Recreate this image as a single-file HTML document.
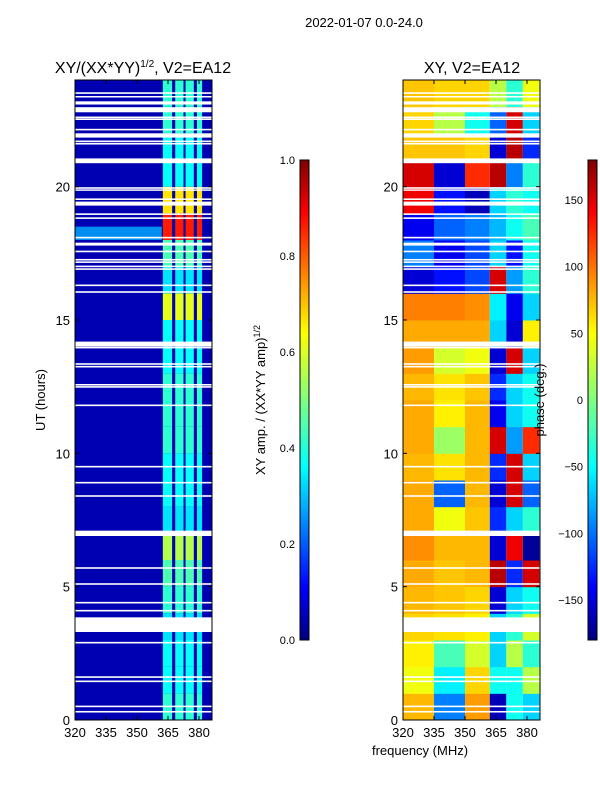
<!DOCTYPE html>
<html><head><meta charset="utf-8"><style>
body{margin:0;background:#fff;}
svg text{font-family:"Liberation Sans",sans-serif;fill:#000;}
</style></head><body>
<svg id="fig" width="600" height="800" xmlns="http://www.w3.org/2000/svg">
<defs>
<linearGradient id="jetg" x1="0" y1="1" x2="0" y2="0">
<stop offset="0" stop-color="#00007f"/><stop offset="0.11" stop-color="#0000ff"/><stop offset="0.36" stop-color="#00ffff"/><stop offset="0.5" stop-color="#7fff7f"/><stop offset="0.64" stop-color="#ffff00"/><stop offset="0.89" stop-color="#ff0000"/><stop offset="1" stop-color="#7f0000"/>
</linearGradient>
</defs>
<text x="364" y="27" font-size="13" text-anchor="middle">2022-01-07 0.0-24.0</text>
<text x="143" y="73" font-size="16" text-anchor="middle">XY/(XX*YY)<tspan font-size="10" dy="-6">1/2</tspan><tspan dy="6">, V2=EA12</tspan></text>
<text x="472" y="73" font-size="16" text-anchor="middle">XY, V2=EA12</text>
<g id="left"></g>
<g id="right"></g>
<g id="axes"></g>
<rect x="300" y="160" width="9" height="480" fill="url(#jetg)" stroke="#000"/>
<rect x="588" y="160" width="9" height="480" fill="url(#jetg)" stroke="#000"/>
<text transform="translate(265,400) rotate(-90)" font-size="13" text-anchor="middle">XY amp. / (XX*YY amp)<tspan font-size="9" dy="-5">1/2</tspan></text>
<text transform="translate(544,400) rotate(-90)" font-size="13" text-anchor="middle">phase (deg.)</text>
<text transform="translate(45,400) rotate(-90)" font-size="13" text-anchor="middle">UT (hours)</text>
<text x="420" y="755" font-size="13" text-anchor="middle">frequency (MHz)</text>
</svg>
<script>
const hours=[0,1,2,3,4,5,6,7,8,9,10,11,12,13,14,15,16,17,18,19,20,21,22,23];
const ampStripe=[0.42,0.38,0.38,0.35,0.42,0.45,0.55,0.35,0.38,0.38,0.42,0.42,0.42,0.38,0.38,0.6,0.35,0.45,0.85,0.65,0.38,0.38,0.42,0.42];
const ampBackground=0.05;
const stripeEdges=[[362.5,367],[368.5,372.5],[373.5,377.5],[379,381.5]];
const phaseColEdges=[320,335,350,362,370,378,386];
const phaseRows=[
[70,-90,80,-160,-40,-60],[40,-50,60,-40,-40,20],[50,-20,30,-60,20,-30],[60,55,50,-60,-30,30],
[70,65,60,-150,-60,-40],[75,65,70,160,-120,150],[85,70,70,-150,140,-170],[75,40,65,-120,-60,-30],
[75,-100,70,-150,150,-100],[70,55,70,-120,150,-60],[75,10,70,150,-80,120],[75,50,70,-140,-60,-40],
[70,55,65,-120,-60,-40],[80,30,40,-150,150,-60],[75,75,75,-60,-150,50],[90,90,85,-50,-140,-60],
[-150,-130,-110,150,-80,-30],[-90,-140,-110,-60,-130,-40],[-140,-100,-90,-70,-40,-20],[140,-130,-160,-60,-30,-40],
[150,-150,120,160,-90,-30],[65,65,60,-150,160,-120],[60,20,-40,-100,150,-60],[65,60,60,20,-30,40]];
const gaps=[[0.28,0.34],[0.48,0.54],[1.42,1.48],[1.58,1.64],[2.87,2.93],[3.3,3.85],[4.07,4.13],[4.37,4.43],[5.07,5.13],[5.67,5.73],[6.9,7.1],[8.37,8.43],[8.87,8.93],[9.47,9.53],[11.77,11.83],[12.46,12.52],[12.54,12.6],[13.22,13.28],[13.32,13.38],[13.94,13.99],[14.0,14.19],[16.02,16.08],[16.27,16.33],[16.88,16.94],[16.98,17.04],[17.14,17.2],[17.23,17.29],[17.54,17.6],[17.79,17.85],[17.85,17.9],[18.06,18.12],[18.79,18.85],[18.94,19.0],[19.29,19.44],[19.5,19.56],[19.85,19.9],[19.92,19.98],[20.88,21.06],[21.58,21.64],[21.67,21.73],[21.84,22.0],[22.11,22.17],[22.5,22.56],[22.57,22.63],[22.79,22.98],[23.08,23.2],[23.35,23.4],[23.48,23.54]];
const yTicks=[0,5,10,15,20];
const xTicks=[320,335,350,365,380];
const ampTicks=[0.0,0.2,0.4,0.6,0.8,1.0];
const phaseTicks=[-150,-100,-50,0,50,100,150];

const NS='http://www.w3.org/2000/svg';
function jet(v){v=Math.max(0,Math.min(1,v));
 const r=Math.max(0,Math.min(1,1.5-Math.abs(4*v-3))),g=Math.max(0,Math.min(1,1.5-Math.abs(4*v-2))),b=Math.max(0,Math.min(1,1.5-Math.abs(4*v-1)));
 return `rgb(${Math.round(r*255)},${Math.round(g*255)},${Math.round(b*255)})`;}
const yS=h=>720-h*(640/24);
function xL(f){return 75+(f-320)*(124/60);}
function xR(f){return 403+(f-320)*(124/60);}
function mk(parent,tag,attrs){const e=document.createElementNS(NS,tag);for(const k in attrs)e.setAttribute(k,attrs[k]);parent.appendChild(e);return e;}
const L=document.getElementById('left'),R=document.getElementById('right'),A=document.getElementById('axes');
let bg=mk(L,'rect',{x:75,y:80,width:137,height:640,fill:jet(ampBackground)});


let band=mk(L,'rect',{x:75,y:yS(18.5),width:xL(362)-75,height:yS(18.0)-yS(18.5),fill:jet(0.3),opacity:0.8});


hours.forEach((h,i)=>{stripeEdges.forEach((s,j)=>{
 const c=mk(L,'rect',{x:xL(s[0]),y:yS(h+1),width:xL(s[1])-xL(s[0]),height:yS(h)-yS(h+1),fill:jet(ampStripe[i])});
 
 
});});
hours.forEach((h,i)=>{phaseRows[i].forEach((p,j)=>{
 const c=mk(R,'rect',{x:xR(phaseColEdges[j]),y:yS(h+1),width:xR(phaseColEdges[j+1])-xR(phaseColEdges[j]),height:yS(h)-yS(h+1)+0.5,fill:jet((p+180)/360)});
 
 
});});
gaps.forEach(g=>{[75,403].forEach(x0=>{
 const r=mk(A,'rect',{x:x0,y:yS(g[1]),width:137,height:Math.max(1.5,yS(g[0])-yS(g[1])),fill:'#fff'});
 
 
});});
[75,403].forEach((x0,pi)=>{
 const f=mk(A,'rect',{x:x0,y:80,width:137,height:640,fill:'none',stroke:'#000','stroke-width':1});
 
 
 yTicks.forEach(t=>{
  mk(A,'line',{x1:x0,x2:x0+4,y1:yS(t),y2:yS(t),stroke:'#000'});
  mk(A,'line',{x1:x0+137,x2:x0+133,y1:yS(t),y2:yS(t),stroke:'#000'});
  const tx=mk(A,'text',{x:x0-5,y:yS(t)+5,'font-size':13,'text-anchor':'end'});tx.textContent=t;
  
  
 });
 xTicks.forEach(t=>{const x=(pi?xR:xL)(t);
  mk(A,'line',{x1:x,x2:x,y1:720,y2:716,stroke:'#000'});
  mk(A,'line',{x1:x,x2:x,y1:80,y2:84,stroke:'#000'});
  const tx=mk(A,'text',{x:x,y:737,'font-size':13,'text-anchor':'middle'});tx.textContent=t;
  
  
 });
});
ampTicks.forEach(t=>{const y=640-t*480;
 mk(A,'line',{x1:300,x2:303,y1:y,y2:y,stroke:'#000'});
 const tx=mk(A,'text',{x:295,y:y+4,'font-size':11,'text-anchor':'end'});tx.textContent=t.toFixed(1);
 
 
});
phaseTicks.forEach(t=>{const y=640-(t+180)/360*480;
 mk(A,'line',{x1:588,x2:591,y1:y,y2:y,stroke:'#000'});
 const tx=mk(A,'text',{x:583,y:y+4,'font-size':11,'text-anchor':'end'});tx.textContent=t<0?'\u2212'+(-t):t;
 
 
});
</script>
</body></html>
